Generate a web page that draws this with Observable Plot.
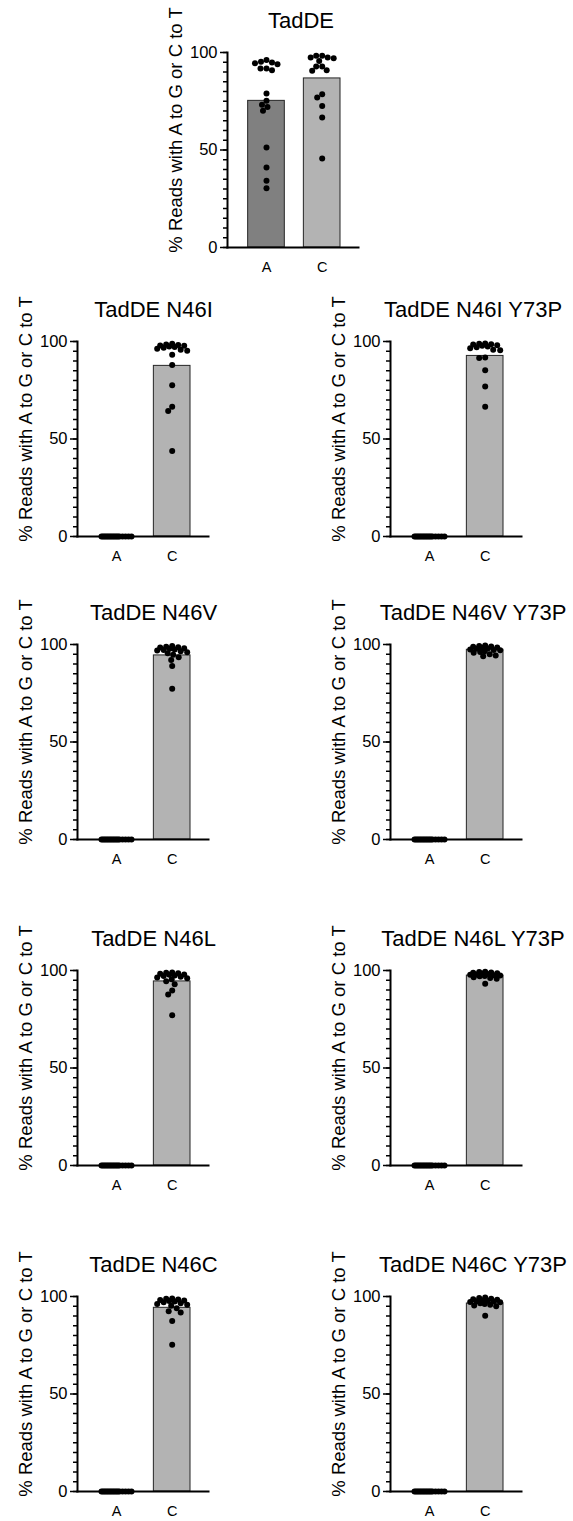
<!DOCTYPE html>
<html><head><meta charset="utf-8">
<script src="https://cdn.jsdelivr.net/npm/d3@7"></script>
<script src="https://cdn.jsdelivr.net/npm/@observablehq/plot@0.6"></script>
<style>
body{margin:0;background:#fff;}
#root{position:relative;width:573px;height:1521px;background:#fff;overflow:hidden;font-family:"Liberation Sans",Arial,Helvetica,sans-serif;}
.panel{position:absolute;}
</style></head><body><div id="root"></div>
<script>
// ---- data ----
const categories = ["A", "C"];
const panelTitles = ["TadDE", "TadDE N46I", "TadDE N46I Y73P", "TadDE N46V", "TadDE N46V Y73P",
  "TadDE N46L", "TadDE N46L Y73P", "TadDE N46C", "TadDE N46C Y73P"];
const yLabel = "% Reads with A to G or C to T";
const yTicks = [0, 50, 100];
const yMinorTicks = [0, 5, 10, 15, 20, 25, 30, 35, 40, 45, 50, 55, 60, 65, 70, 75, 80, 85, 90, 95, 100];

// bar heights (means)
const barA = [75.2, 0, 0, 0, 0, 0, 0, 0, 0];
const barC = [86.7, 87.5, 92.6, 94.4, 97.3, 94.4, 97.4, 94.2, 96.4];

// individual replicates
const tadDE_A = [94.5, 90.9, 94.0, 95.2, 94.9, 91.8, 96.1, 91.8, 79.0, 75.2, 73.2, 72.1, 70.1, 51.3, 41.0, 34.2, 30.4];
const tadDE_C = [97.1, 97.4, 95.7, 98.3, 97.4, 98.3, 90.9, 90.6, 92.8, 92.8, 78.6, 76.9, 72.6, 66.7, 45.6];
const zerosA = [0, 0, 0, 0, 0, 0, 0, 0, 0, 0, 0, 0, 0, 0, 0, 0, 0];
const n46I_C = [98.8, 98.5, 98.2, 98.0, 97.8, 97.5, 97.2, 96.8, 96.3, 95.8, 95.2, 93.2, 87.9, 77.6, 66.5, 64.4, 43.8];
const n46IY73P_C = [99.0, 98.8, 98.6, 98.4, 98.1, 97.8, 97.4, 97.0, 96.5, 95.8, 95.5, 91.8, 91.5, 85.3, 76.9, 66.5];
const n46V_C = [99.2, 98.9, 98.6, 98.4, 98.1, 97.8, 97.5, 97.2, 96.9, 96.5, 96.0, 95.5, 94.8, 93.5, 92.0, 89.0, 77.3];
const n46VY73P_C = [99.5, 99.2, 99.0, 98.8, 98.5, 98.3, 98.0, 97.8, 97.5, 97.2, 97.0, 96.6, 96.2, 95.8, 95.0, 94.3, 94.0];
const n46L_C = [99.0, 98.8, 98.6, 98.3, 98.0, 97.8, 97.5, 97.2, 96.8, 96.4, 96.0, 95.5, 94.5, 93.0, 89.8, 87.7, 77.0];
const n46LY73P_C = [99.4, 99.2, 99.0, 98.8, 98.6, 98.4, 98.2, 98.0, 97.8, 97.6, 97.4, 97.2, 97.0, 96.6, 96.2, 95.8, 93.2];
const n46C_C = [99.0, 98.8, 98.5, 98.2, 98.0, 97.7, 97.4, 97.0, 96.6, 96.2, 95.8, 95.2, 94.0, 92.5, 91.8, 87.5, 75.3];
const n46CY73P_C = [99.5, 99.2, 98.9, 98.6, 98.3, 98.0, 97.8, 97.6, 97.4, 97.2, 97.0, 96.6, 96.2, 95.8, 95.4, 95.0, 90.1];

const pointsA = [tadDE_A, zerosA, zerosA, zerosA, zerosA, zerosA, zerosA, zerosA, zerosA];
const pointsC = [tadDE_C, n46I_C, n46IY73P_C, n46V_C, n46VY73P_C, n46L_C, n46LY73P_C, n46C_C, n46CY73P_C];

// ---- layout (pixels) ----
const layout = [
  {axisX: 227, top: 52, titleDx: 73.5},
  {axisX: 77, top: 341, titleDx: 76}, {axisX: 390, top: 341, titleDx: 82.5},
  {axisX: 77, top: 644, titleDx: 76}, {axisX: 390, top: 644, titleDx: 82.5},
  {axisX: 77, top: 970, titleDx: 76}, {axisX: 390, top: 970, titleDx: 82.5},
  {axisX: 77, top: 1296, titleDx: 76}, {axisX: 390, top: 1296, titleDx: 82.5}
];
const plotW = 131, plotH = 195;
const mL = 70, mR = 8, mT = 50, mB = 32;
const xDomain = [-0.70, 1.652];
const pxPerX = plotW / (xDomain[1] - xDomain[0]);
const pxPerY = plotH / 100;
const halfBar = 0.329;
const dotR = 3;
const fills = ["#808080", "#b3b3b3"];
const font = '"Liberation Sans", Arial, Helvetica, sans-serif';

// deterministic beeswarm: offsets in x data units
function swarm(values) {
  const d = 2 * dotR - 0.3;
  const maxOff = halfBar * pxPerX - dotR;
  const order = values.map((v, i) => i).sort((a, b) => values[b] - values[a]);
  const placed = [];
  const out = new Array(values.length);
  const steps = Math.floor(maxOff / 0.5);
  for (const i of order) {
    const y = values[i] * pxPerY;
    let best = null, bestAbs = Infinity, fb = 0, fbDist = -1;
    for (let k = -steps; k <= steps; k++) {
      const x = k * 0.5;
      let md = Infinity;
      for (const p of placed) { const dd = Math.hypot(p.x - x, p.y - y); if (dd < md) md = dd; }
      if (md >= d && Math.abs(x) < bestAbs) { bestAbs = Math.abs(x); best = x; }
      if (md > fbDist + 1e-9) { fbDist = md; fb = x; }
    }
    const x = best !== null ? best : fb;
    placed.push({x, y});
    out[i] = x / pxPerX;
  }
  return out;
}

const root = document.getElementById("root");
panelTitles.forEach((title, p) => {
  const L = layout[p];
  const offA = swarm(pointsA[p]);
  const offC = swarm(pointsC[p]);
  const dots = [
    ...pointsA[p].map((v, i) => ({x: 0 + offA[i], y: v})),
    ...pointsC[p].map((v, i) => ({x: 1 + offC[i], y: v}))
  ];
  const barsA = [{x1: 0 - halfBar, x2: 0 + halfBar, y: barA[p]}];
  const barsC = [{x1: 1 - halfBar, x2: 1 + halfBar, y: barC[p]}];
  const chart = Plot.plot({
    width: mL + plotW + mR,
    height: mT + plotH + mB,
    marginLeft: mL, marginRight: mR, marginTop: mT, marginBottom: mB,
    x: {domain: xDomain, axis: null},
    y: {domain: [0, 100], axis: null},
    style: {fontFamily: font, background: "transparent", overflow: "visible", color: "#000"},
    marks: [
      Plot.rectY(barsA, {x1: "x1", x2: "x2", y: "y", fill: p === 0 ? fills[0] : fills[1], stroke: "#262626", strokeWidth: 1}),
      Plot.rectY(barsC, {x1: "x1", x2: "x2", y: "y", fill: fills[1], stroke: "#262626", strokeWidth: 1}),
      Plot.axisY(yMinorTicks, {tickSize: 4, strokeWidth: 1.5, fill: "none", label: null}),
      Plot.axisY(yTicks, {tickSize: 7, tickPadding: 3, strokeWidth: 1.5, fontSize: 16.5, label: null}),
      Plot.axisX([0, 1], {tickFormat: i => categories[i], tickSize: 0, tickPadding: 14, fontSize: 14.5, label: null}),
      Plot.frame({anchor: "left", strokeWidth: 2}),
      Plot.frame({anchor: "bottom", strokeWidth: 2}),
      Plot.dot(dots, {x: "x", y: "y", r: dotR, fill: "#000", stroke: "none"}),
      Plot.text([title], {frameAnchor: "top-left", dx: L.titleDx, dy: -25, lineAnchor: "bottom", textAnchor: "middle", fontSize: 22}),
      Plot.text([yLabel], {frameAnchor: "left", dx: -51, dy: -20, rotate: -90, textAnchor: "middle", lineAnchor: "middle", fontSize: 18.5})
    ]
  });
  const div = document.createElement("div");
  div.className = "panel";
  div.style.left = (L.axisX - mL) + "px";
  div.style.top = (L.top - mT) + "px";
  div.appendChild(chart);
  root.appendChild(div);
});
</script>
</body></html>
